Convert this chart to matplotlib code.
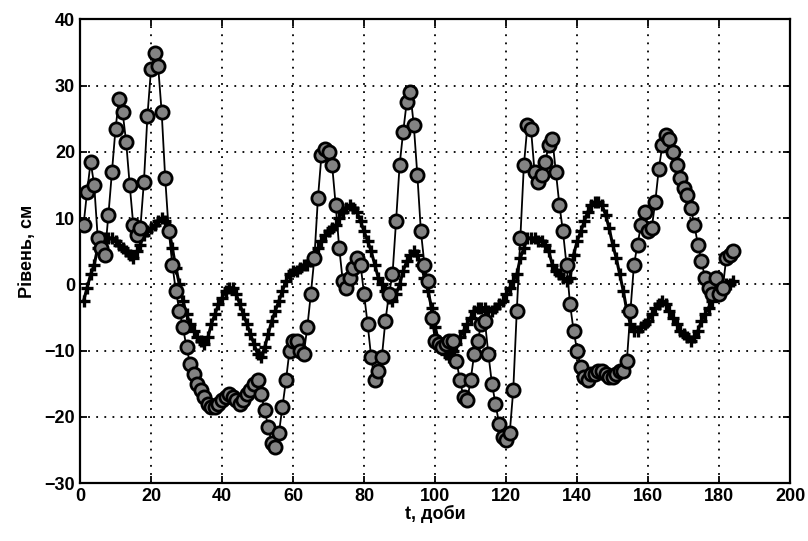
import matplotlib
matplotlib.use("Agg")
import matplotlib.pyplot as plt

# доби спостережень
days = list(range(1, 185))

# рівень (кружки)
level_obs = [
    9, 14, 18.5, 15, 7, 5.5, 4.5, 10.5, 17, 23.5,
    28, 26, 21.5, 15, 9, 7.5, 8.5, 15.5, 25.5, 32.5,
    35, 33, 26, 16, 8, 3, -1, -4, -6.5, -9.5,
    -12, -13.5, -15, -16, -17, -18, -18.5, -18.5, -18, -17.5,
    -17, -16.5, -17, -17.5, -18, -17.5, -16.5, -16, -15, -14.5,
    -16.5, -19, -21.5, -24, -24.5, -22.5, -18.5, -14.5, -10, -8.5,
    -8.5, -10, -10.5, -6.5, -1.5, 4, 13, 19.5, 20.5, 20,
    18, 12, 5.5, 0.5, -0.5, 1, 2.5, 4, 3, -1.5,
    -6, -11, -14.5, -13, -11, -5.5, -1.5, 1.5, 9.5, 18,
    23, 27.5, 29, 24, 16.5, 8, 3, 0.5, -5, -8.5,
    -9, -9.5, -9, -8.5, -8.5, -11.5, -14.5, -17, -17.5, -14.5,
    -10.5, -8.5, -6, -5.5, -10.5, -15, -18, -21, -23, -23.5,
    -22.5, -16, -4, 7, 18, 24, 23.5, 17, 15.5, 16.5,
    18.5, 21, 22, 17, 12, 8, 3, -3, -7, -10,
    -12.5, -14, -14.5, -13.5, -13.5, -13, -13, -13.5, -14, -14,
    -13.5, -13, -13, -11.5, -4, 3, 6, 9, 11, 8,
    8.5, 12.5, 17.5, 21, 22.5, 22, 20, 18, 16, 14.5,
    13.5, 11.5, 9, 6, 3.5, 1, -0.5, -1.5, 1, -1.5,
    -0.5, 4, 4.5, 5,
]

# рівень (хрестики)
level_mod = [
    -2.5, -0.5, 1.5, 3, 5.5, 6.5, 7, 7, 7, 6.5,
    6, 5.5, 5, 4.5, 4, 5, 6, 7.5, 8, 8.5,
    9, 9.5, 10, 9.5, 8.5, 5.5, 2.5, 0, -2.5, -4.5,
    -6, -7, -8, -8.5, -9, -8, -6, -4.5, -3, -2,
    -1, -0.5, -0.5, -1.5, -3, -4.5, -6, -7.5, -9, -10.5,
    -11, -9.5, -7.5, -5.5, -4, -2.5, -1, 0.5, 1.5, 2,
    2, 2.5, 3, 3, 3.5, 4.5, 5.5, 6.5, 7.5, 8,
    8.5, 9, 10, 11, 11.5, 12, 11.5, 11, 9.5, 8,
    6.5, 5, 3, 1, 0, -1, -2, -2.5, -1.5, 0,
    2, 3.5, 4.5, 5, 4.5, 3, 1, -1, -3.5, -6.5,
    -8.5, -9.5, -10.5, -11, -10, -9, -8, -7, -6, -5,
    -4, -3.5, -3.5, -3.5, -4, -4, -3.5, -3, -2.5, -1.5,
    -0.5, 0.5, 1.5, 4, 5.5, 7, 7, 7, 6.5, 6.5,
    6, 5, 3, 2, 1.5, 1, 0.5, 1, 4.5, 6.5,
    8, 9.5, 11, 12, 12.5, 12.5, 12, 10.5, 8.5, 6,
    4, 1.5, -1, -4, -6, -7, -7, -6.5, -6, -5.5,
    -4.5, -3.5, -3, -2.5, -3, -4, -5, -6, -7, -7.5,
    -8, -8.5, -8, -7, -5.5, -4.5, -3.5, -2.5, -1.5, -1,
    -0.5, 0, 0, 0.5,
]

xticks = list(range(0, 201, 20))
yticks = list(range(-30, 41, 10))

plt.rcParams['font.family'] = ['Liberation Sans', 'DejaVu Sans']

fig, ax = plt.subplots(figsize=(8.08, 5.41), dpi=100)
fig.subplots_adjust(left=0.099, right=0.978, top=0.964, bottom=0.107)

ax.plot(days, level_mod, color='black', lw=2.2, marker='+', ms=9,
        markeredgecolor='black', markeredgewidth=2.4, zorder=3)
ax.plot(days, level_obs, color='black', lw=1.3, marker='o', ms=9.5,
        markerfacecolor='#838383', markeredgecolor='black', markeredgewidth=2, zorder=4)

ax.set_xlim(0, 200)
ax.set_ylim(-30, 40)
ax.set_xticks(xticks)
ax.set_yticks(yticks)
ax.grid(True, color='black', linestyle=(0, (1, 3.5)), linewidth=1.3)
ax.tick_params(direction='in', top=True, right=True, length=5, width=1.3,
               labelsize=13)
for lab in ax.get_xticklabels() + ax.get_yticklabels():
    lab.set_fontweight('bold')
for sp in ax.spines.values():
    sp.set_linewidth(1.6)

ax.set_xlabel('t, доби', fontsize=13, fontweight='bold', labelpad=0)
ax.set_ylabel('Рівень, см', fontsize=13, fontweight='bold', labelpad=6)

fig.savefig('out.png', dpi=100)
